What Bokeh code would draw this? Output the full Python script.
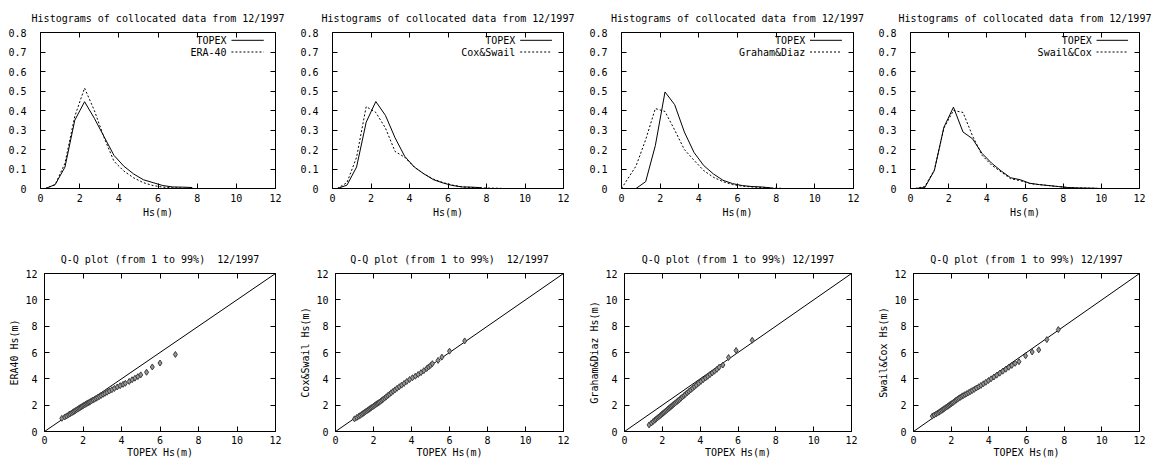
from bokeh.plotting import figure
from bokeh.layouts import column, row
from bokeh.models import Range1d, FixedTicker, LinearAxis, CustomJSTickFormatter
from bokeh.embed import file_html
from bokeh.resources import INLINE
from bokeh.core.properties import value

FONT = "DejaVu Sans Mono"
FS = "10px"
NB = "\u00a0"

# ---------------- data ----------------
hist_title = "Histograms of collocated data from 12/1997"
qq_titles = ["Q-Q plot (from 1 to 99%)" + NB + " 12/1997", "Q-Q plot (from 1 to 99%)" + NB + " 12/1997",
             "Q-Q plot (from 1 to 99%) 12/1997", "Q-Q plot (from 1 to 99%) 12/1997"]
model_names = ["ERA-40", "Cox&Swail", "Graham&Diaz", "Swail&Cox"]
qq_ylabels = ["ERA40 Hs(m)", "Cox&Swail Hs(m)", "Graham&Diaz Hs(m)", "Swail&Cox Hs(m)"]
ref_name = "TOPEX"

# histogram 1 (TOPEX vs ERA-40)
h1_x_topex = [0.25, 0.75, 1.25, 1.75, 2.25, 2.75, 3.25, 3.75, 4.25, 4.75, 5.25, 5.75, 6.25, 6.75, 7.25, 7.75]
h1_topex = [0.0, 0.02, 0.11, 0.35, 0.445, 0.36, 0.265, 0.17, 0.115, 0.075, 0.045, 0.03, 0.015, 0.008, 0.007, 0.005]
h1_x_model = [0.25, 0.75, 1.25, 1.75, 2.25, 2.75, 3.25, 3.75, 4.25, 4.75, 5.25, 5.75, 6.25, 6.75, 7.25, 7.75]
h1_model = [0.0, 0.02, 0.13, 0.37, 0.515, 0.40, 0.26, 0.14, 0.09, 0.055, 0.03, 0.015, 0.007, 0.004, 0.002, 0.0]

# histogram 2 (TOPEX vs Cox&Swail)
h2_x_topex = [0.25, 0.75, 1.25, 1.75, 2.25, 2.75, 3.25, 3.75, 4.25, 4.75, 5.25, 5.75, 6.25, 6.75, 7.25, 7.75]
h2_topex = [0.0, 0.017, 0.11, 0.34, 0.446, 0.375, 0.26, 0.165, 0.11, 0.075, 0.045, 0.028, 0.015, 0.008, 0.007, 0.004]
h2_x_model = [0.25, 0.75, 1.25, 1.75, 2.25, 2.75, 3.25, 3.75, 4.25, 4.75, 5.25, 5.75, 6.25, 6.75, 7.25, 7.75, 8.25, 8.75]
h2_model = [0.0, 0.03, 0.16, 0.42, 0.39, 0.31, 0.19, 0.16, 0.11, 0.075, 0.048, 0.03, 0.017, 0.008, 0.005, 0.003, 0.002, 0.001]

# histogram 3 (TOPEX vs Graham&Diaz)
h3_x_topex = [0.25, 0.75, 1.25, 1.75, 2.25, 2.75, 3.25, 3.75, 4.25, 4.75, 5.25, 5.75, 6.25, 6.75, 7.25, 7.75]
h3_topex = [0.0, 0.0, 0.035, 0.22, 0.495, 0.43, 0.29, 0.185, 0.118, 0.075, 0.042, 0.025, 0.015, 0.01, 0.008, 0.003]
h3_x_model = [0.0, 0.75, 1.25, 1.75, 2.25, 2.75, 3.25, 3.75, 4.25, 4.75, 5.25, 5.75, 6.25, 6.75, 7.25, 7.75, 8.25]
h3_model = [0.0, 0.115, 0.25, 0.41, 0.395, 0.30, 0.20, 0.145, 0.092, 0.058, 0.035, 0.02, 0.012, 0.008, 0.005, 0.003, 0.001]

# histogram 4 (TOPEX vs Swail&Cox)
h4_x_topex = [0.25, 0.75, 1.25, 1.75, 2.25, 2.75, 3.25, 3.75, 4.25, 4.75, 5.25, 5.75, 6.25, 6.75, 7.25, 7.75,
              8.25, 8.75, 9.25, 9.75]
h4_topex = [0.0, 0.005, 0.092, 0.314, 0.417, 0.29, 0.255, 0.18, 0.13, 0.09, 0.055, 0.045, 0.027, 0.02, 0.015,
            0.01, 0.005, 0.003, 0.002, 0.001]
h4_x_model = [0.25, 0.75, 1.25, 1.75, 2.25, 2.75, 3.25, 3.75, 4.25, 4.75, 5.25, 5.75, 6.25, 6.75, 7.25, 7.75,
              8.25, 8.75, 9.25, 9.75, 10.25]
h4_model = [0.0, 0.01, 0.095, 0.31, 0.40, 0.39, 0.27, 0.17, 0.12, 0.085, 0.05, 0.04, 0.025, 0.02, 0.015, 0.01,
            0.005, 0.003, 0.002, 0.001, 0.0]

# Q-Q plots (TOPEX quantiles on x, model quantiles on y)
q1_x = [0.9, 1.05, 1.15, 1.25, 1.32, 1.4, 1.47, 1.53, 1.6, 1.66, 1.72, 1.78, 1.84, 1.9, 1.96, 2.02, 2.08, 2.14,
        2.2, 2.26, 2.32, 2.38, 2.45, 2.52, 2.6, 2.68, 2.76, 2.85, 2.94, 3.04, 3.14, 3.25, 3.37, 3.5, 3.63, 3.78,
        3.93, 4.08, 4.2, 4.4, 4.55, 4.7, 4.85, 5.0, 5.3, 5.6, 6.0, 6.8]
q1_y = [1.0, 1.1, 1.18, 1.27, 1.33, 1.4, 1.46, 1.52, 1.58, 1.64, 1.7, 1.75, 1.8, 1.86, 1.92, 1.97, 2.02, 2.07,
        2.12, 2.17, 2.22, 2.27, 2.33, 2.39, 2.45, 2.52, 2.59, 2.66, 2.74, 2.82, 2.9, 2.98, 3.07, 3.17, 3.27, 3.38,
        3.48, 3.58, 3.66, 3.8, 3.93, 4.05, 4.17, 4.3, 4.5, 4.9, 5.2, 5.85]

q2_x = [1.0, 1.12, 1.22, 1.3, 1.38, 1.45, 1.52, 1.58, 1.64, 1.7, 1.76, 1.82, 1.88, 1.94, 2.0, 2.06, 2.12, 2.18,
        2.24, 2.3, 2.37, 2.44, 2.51, 2.59, 2.67, 2.75, 2.84, 2.93, 3.03, 3.13, 3.24, 3.36, 3.48, 3.61, 3.75, 3.9,
        4.05, 4.2, 4.35, 4.5, 4.65, 4.8, 4.9, 5.0, 5.1, 5.4, 5.6, 6.0, 6.8]
q2_y = [0.96, 1.06, 1.15, 1.22, 1.3, 1.37, 1.44, 1.5, 1.56, 1.62, 1.68, 1.74, 1.8, 1.86, 1.92, 1.98, 2.04, 2.1,
        2.16, 2.22, 2.29, 2.37, 2.45, 2.54, 2.63, 2.73, 2.83, 2.94, 3.05, 3.16, 3.28, 3.4, 3.52, 3.65, 3.8, 3.95,
        4.08, 4.2, 4.33, 4.47, 4.62, 4.78, 4.9, 5.02, 5.15, 5.4, 5.65, 6.1, 6.88]

q3_x = [1.3, 1.42, 1.52, 1.6, 1.67, 1.74, 1.8, 1.86, 1.92, 1.98, 2.04, 2.1, 2.16, 2.22, 2.28, 2.34, 2.4, 2.46,
        2.52, 2.58, 2.64, 2.7, 2.77, 2.84, 2.91, 2.98, 3.06, 3.14, 3.22, 3.31, 3.4, 3.5, 3.6, 3.7, 3.8, 3.92,
        4.04, 4.16, 4.28, 4.4, 4.52, 4.64, 4.76, 4.88, 5.0, 5.2, 5.5, 5.9, 6.75]
q3_y = [0.5, 0.64, 0.76, 0.86, 0.94, 1.03, 1.1, 1.17, 1.24, 1.32, 1.39, 1.46, 1.53, 1.6, 1.68, 1.75, 1.82, 1.89,
        1.96, 2.04, 2.11, 2.18, 2.26, 2.35, 2.43, 2.52, 2.62, 2.72, 2.82, 2.93, 3.04, 3.16, 3.28, 3.4, 3.52, 3.66,
        3.8, 3.93, 4.06, 4.19, 4.32, 4.45, 4.58, 4.72, 4.88, 5.05, 5.62, 6.15, 6.93]

q4_x = [1.0, 1.1, 1.2, 1.28, 1.36, 1.43, 1.5, 1.57, 1.63, 1.7, 1.76, 1.82, 1.88, 1.94, 2.0, 2.06, 2.12, 2.19,
        2.26, 2.33, 2.4, 2.48, 2.56, 2.64, 2.73, 2.82, 2.92, 3.02, 3.12, 3.23, 3.34, 3.46, 3.58, 3.71, 3.84, 3.98,
        4.12, 4.27, 4.42, 4.58, 4.74, 4.9, 5.06, 5.22, 5.4, 5.6, 5.95, 6.3, 6.65, 7.08, 7.69]
q4_y = [1.17, 1.25, 1.33, 1.4, 1.47, 1.54, 1.6, 1.67, 1.73, 1.8, 1.86, 1.92, 1.98, 2.04, 2.1, 2.16, 2.22, 2.3,
        2.38, 2.45, 2.52, 2.59, 2.66, 2.73, 2.8, 2.87, 2.95, 3.03, 3.11, 3.2, 3.3, 3.4, 3.5, 3.62, 3.74, 3.87,
        4.0, 4.14, 4.28, 4.43, 4.58, 4.73, 4.88, 5.02, 5.18, 5.3, 5.75, 6.04, 6.2, 6.98, 7.74]

diag_x = [0, 12]
diag_y = [0, 12]

hist_xticks = [0, 2, 4, 6, 8, 10, 12]
hist_yticks = [0, 0.1, 0.2, 0.3, 0.4, 0.5, 0.6, 0.7, 0.8]
qq_ticks = [0, 2, 4, 6, 8, 10, 12]

# ---------------- layout constants ----------------
widths = [297, 289, 289, 282]
row1_bl = [40, 32, 30, 28]
row1_br = [22, 23, 22, 18]
row2_bl = [44, 35, 34, 34]
row2_br = [22, 23, 24, 18]
H1, H2 = 236, 225


def style_axis(ax, ticks, label_size=FS, fmt=None, standoff=6):
    ax.ticker = FixedTicker(ticks=ticks)
    ax.major_tick_in = 5
    ax.major_tick_out = 0
    ax.minor_tick_in = 0
    ax.minor_tick_out = 0
    ax.axis_line_color = None
    ax.major_tick_line_color = "black"
    ax.major_tick_line_width = 1
    ax.major_label_text_font = FONT
    ax.major_label_text_font_size = label_size
    ax.major_label_text_color = "black"
    ax.major_label_standoff = standoff
    ax.axis_label_text_font = FONT
    ax.axis_label_text_font_size = FS
    ax.axis_label_text_font_style = "normal"
    ax.axis_label_text_color = "black"
    ax.axis_label_standoff = 2
    if fmt is not None:
        ax.formatter = fmt


def mirror_axes(p, xticks, yticks):
    for loc, ticks in (("right", yticks), ("above", xticks)):
        ax = LinearAxis()
        style_axis(ax, ticks, label_size="1px",
                   fmt=CustomJSTickFormatter(code="return ''"), standoff=0)
        p.add_layout(ax, loc)


def make_fig(width, height, xr, yr, title, bl, br, bt, bb):
    p = figure(width=width, height=height, x_range=Range1d(*xr), y_range=Range1d(*yr),
               output_backend="svg", toolbar_location=None, tools="",
               min_border_left=bl, min_border_right=br, min_border_top=bt, min_border_bottom=bb,
               title=title)
    p.title.align = "center"
    p.title.text_font = FONT
    p.title.text_font_size = FS
    p.title.text_font_style = "normal"
    p.title.text_color = "black"
    p.title.standoff = 18
    p.grid.visible = False
    p.outline_line_color = "black"
    p.outline_line_width = 1
    p.background_fill_color = "white"
    p.border_fill_color = "white"
    return p


hist_fmt_code = "return tick == 0 ? '0' : tick.toFixed(1);"

hist_sets = [
    (h1_x_topex, h1_topex, h1_x_model, h1_model),
    (h2_x_topex, h2_topex, h2_x_model, h2_model),
    (h3_x_topex, h3_topex, h3_x_model, h3_model),
    (h4_x_topex, h4_topex, h4_x_model, h4_model),
]
qq_sets = [(q1_x, q1_y), (q2_x, q2_y), (q3_x, q3_y), (q4_x, q4_y)]

row1 = []
for i, (xt, yt, xm, ym) in enumerate(hist_sets):
    p = make_fig(widths[i], H1, (0, 12), (0, 0.8), hist_title, row1_bl[i], row1_br[i], 32, 48)
    p.line(xt, yt, line_color="black", line_width=1)
    p.line(xm, ym, line_color="black", line_width=1, line_dash="2 2")
    # key (label left of sample, as in the original)
    p.text(x=[9.5, 9.5], y=[0.76, 0.70], text=[ref_name, model_names[i]],
           text_align="right", text_baseline="middle",
           text_font=value(FONT), text_font_size=value(FS), text_color="black")
    p.segment(x0=[9.75], y0=[0.76], x1=[11.4], y1=[0.76], line_color="black", line_width=1)
    p.segment(x0=[9.75], y0=[0.70], x1=[11.4], y1=[0.70], line_color="black", line_width=1,
              line_dash="2 2")
    style_axis(p.xaxis[0], hist_xticks, standoff=5)
    style_axis(p.yaxis[0], hist_yticks, fmt=CustomJSTickFormatter(code=hist_fmt_code), standoff=14)
    p.xaxis[0].axis_label = "Hs(m)"
    mirror_axes(p, hist_xticks, hist_yticks)
    row1.append(p)

row2 = []
for i, (qx, qy) in enumerate(qq_sets):
    p = make_fig(widths[i], H2, (0, 12), (0, 12), qq_titles[i], row2_bl[i], row2_br[i], 37, 30)
    p.line(diag_x, diag_y, line_color="black", line_width=1)
    p.scatter(qx, qy, marker="diamond", size=6, line_color="#3c3c3c", fill_color="#969696",
              line_width=1)
    style_axis(p.xaxis[0], qq_ticks, standoff=4)
    style_axis(p.yaxis[0], qq_ticks, standoff=7)
    p.xaxis[0].axis_label = "TOPEX Hs(m)"
    p.xaxis[0].axis_label_standoff = 0
    p.yaxis[0].axis_label = qq_ylabels[i]
    mirror_axes(p, qq_ticks, qq_ticks)
    row2.append(p)

layout = column(row(*row1), row(*row2))
open("out.html", "w").write(file_html(layout, INLINE))
